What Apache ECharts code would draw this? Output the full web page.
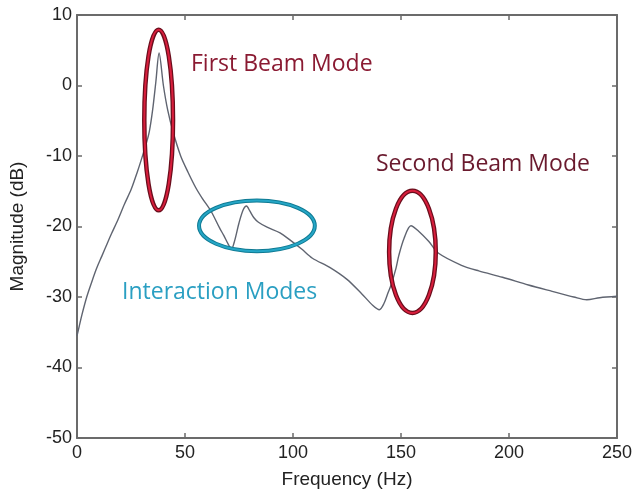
<!DOCTYPE html>
<html>
<head>
<meta charset="utf-8">
<script src="https://cdn.jsdelivr.net/npm/echarts@6/dist/echarts.min.js"></script>
<style>
  html, body { margin: 0; padding: 0; background: #fff; }
  #chart { width: 635px; height: 494px; }
</style>
</head>
<body>
<div id="chart"></div>
<script>
// Frequency response of the beam (frequency in Hz, magnitude in dB)
const frequency = [
  0, 1, 2.3, 4.5, 6.9, 9, 11.5, 14, 16, 19, 22, 25, 28, 30, 32, 33.5, 35, 36.5, 38,
  40, 42, 44.5, 48, 51.4, 55, 58, 62, 66, 68, 70, 71.5, 73, 75, 77, 78.5, 80, 82, 84,
  88, 94, 99, 104, 109, 117, 125, 132, 137, 140, 142, 144, 145.4, 147.7, 149, 151.4,
  154.6, 158.3, 162.8, 167.4, 178, 186, 197, 209, 220, 230, 236, 242, 250
];
const magnitude = [
  -35.5, -34.2, -32.5, -30, -27.8, -26, -24.2, -22.4, -21, -19, -16.8, -14.8, -12.2, -10.3, -8.3, -6.5, -3.5, 0.5, 4.6,
  0, -3.5, -6.6, -10, -12.3, -14.5, -16, -17.8, -20.2, -21.3, -22.5, -23.2, -22, -19.5, -17.6, -17.1, -17.8, -18.8, -19.4,
  -20.1, -20.9, -22, -23.2, -24.5, -25.8, -27.5, -29.6, -31.2, -31.8, -31, -29.4, -28.3, -25.9, -24.1, -21.7,
  -19.9, -20.7, -22.1, -23.8, -25.5, -26.3, -27.2, -28.3, -29.2, -30.0, -30.4, -30.1, -29.9
];

// Axis ranges and tick labels
const xTicks = [0, 50, 100, 150, 200, 250];
const yTicks = [-50, -40, -30, -20, -10, 0, 10];

// Highlighted modes: centre (Hz, dB) and half-widths (Hz, dB)
const modeCentreX = [37.8, 83.3, 155.3];
const modeCentreY = [-4.9, -19.9, -23.6];
const modeHalfX = [6.65, 26.8, 10.8];
const modeHalfY = [12.8, 3.6, 8.66];
const modeKind = ['beam', 'interaction', 'beam'];

const curve = frequency.map((f, i) => [f, magnitude[i]]);
const modes = modeCentreX.map((x, i) => [x, modeCentreY[i], modeHalfX[i], modeHalfY[i], i]);

const ring = {
  beam: { outer: '#6a0d1c', inner: '#d81e3c', w1: 4.5, w2: 2 },
  interaction: { outer: '#0f7a93', inner: '#25a6c6', w1: 4, w2: 2 }
};

const axisColor = '#6b6b6b';
const labelFont = '"Liberation Sans", Arial, sans-serif';
const noteFont = '"Open Sans", sans-serif';

const chart = echarts.init(document.getElementById('chart'), null, { renderer: 'canvas' });

const tickStyle = { show: true, inside: true, length: 5, lineStyle: { color: axisColor, width: 1.5 } };
const lineStyle = { show: true, onZero: false, lineStyle: { color: axisColor, width: 2 } };

chart.setOption({
  animation: false,
  backgroundColor: '#ffffff',
  grid: { left: 75, right: 15, top: 15, bottom: 53, containLabel: false },
  xAxis: [
    {
      type: 'value', position: 'bottom', min: xTicks[0], max: xTicks[xTicks.length - 1], interval: 50,
      name: 'Frequency (Hz)', nameLocation: 'middle', nameGap: 32,
      nameTextStyle: { fontFamily: labelFont, fontSize: 19, color: '#222' },
      axisLine: lineStyle, axisTick: tickStyle, splitLine: { show: false },
      axisLabel: { fontFamily: labelFont, fontSize: 18, color: '#222', margin: 6 }
    },
    {
      type: 'value', position: 'top', min: xTicks[0], max: xTicks[xTicks.length - 1], interval: 50,
      axisLine: lineStyle, axisTick: tickStyle, splitLine: { show: false }, axisLabel: { show: false }
    }
  ],
  yAxis: [
    {
      type: 'value', position: 'left', min: yTicks[0], max: yTicks[yTicks.length - 1], interval: 10,
      name: 'Magnitude (dB)', nameLocation: 'middle', nameGap: 50, nameRotate: 90,
      nameTextStyle: { fontFamily: labelFont, fontSize: 19, color: '#222' },
      axisLine: lineStyle, axisTick: tickStyle, splitLine: { show: false },
      axisLabel: { fontFamily: labelFont, fontSize: 18, color: '#222', margin: 5 }
    },
    {
      type: 'value', position: 'right', min: yTicks[0], max: yTicks[yTicks.length - 1], interval: 10,
      axisLine: lineStyle, axisTick: tickStyle, splitLine: { show: false }, axisLabel: { show: false }
    }
  ],
  series: [
    {
      type: 'line', data: curve, xAxisIndex: 0, yAxisIndex: 0,
      showSymbol: false, smooth: 0.3,
      lineStyle: { color: '#5f6470', width: 1.4 }, z: 2
    },
    {
      type: 'custom', data: modes, xAxisIndex: 0, yAxisIndex: 0, clip: false, z: 3,
      renderItem: function (params, api) {
        const c = api.coord([api.value(0), api.value(1)]);
        const s = api.size([api.value(2), api.value(3)]);
        const st = ring[modeKind[api.value(4)]];
        const shape = { cx: c[0], cy: c[1], rx: s[0], ry: s[1] };
        return {
          type: 'group',
          children: [
            { type: 'ellipse', shape: shape, style: { fill: 'none', stroke: st.outer, lineWidth: st.w1 } },
            { type: 'ellipse', shape: shape, style: { fill: 'none', stroke: st.inner, lineWidth: st.w2 } }
          ]
        };
      }
    }
  ],
  graphic: [
    { type: 'text', left: 191, top: 53, style: { text: 'First Beam Mode', fill: '#8a1a32', font: '23px ' + noteFont } },
    { type: 'text', left: 376, top: 153, style: { text: 'Second Beam Mode', fill: '#6a1a2e', font: '23px ' + noteFont } },
    { type: 'text', left: 122, top: 281, style: { text: 'Interaction Modes', fill: '#2a9fc2', font: '23px ' + noteFont } }
  ]
});
</script>
</body>
</html>
